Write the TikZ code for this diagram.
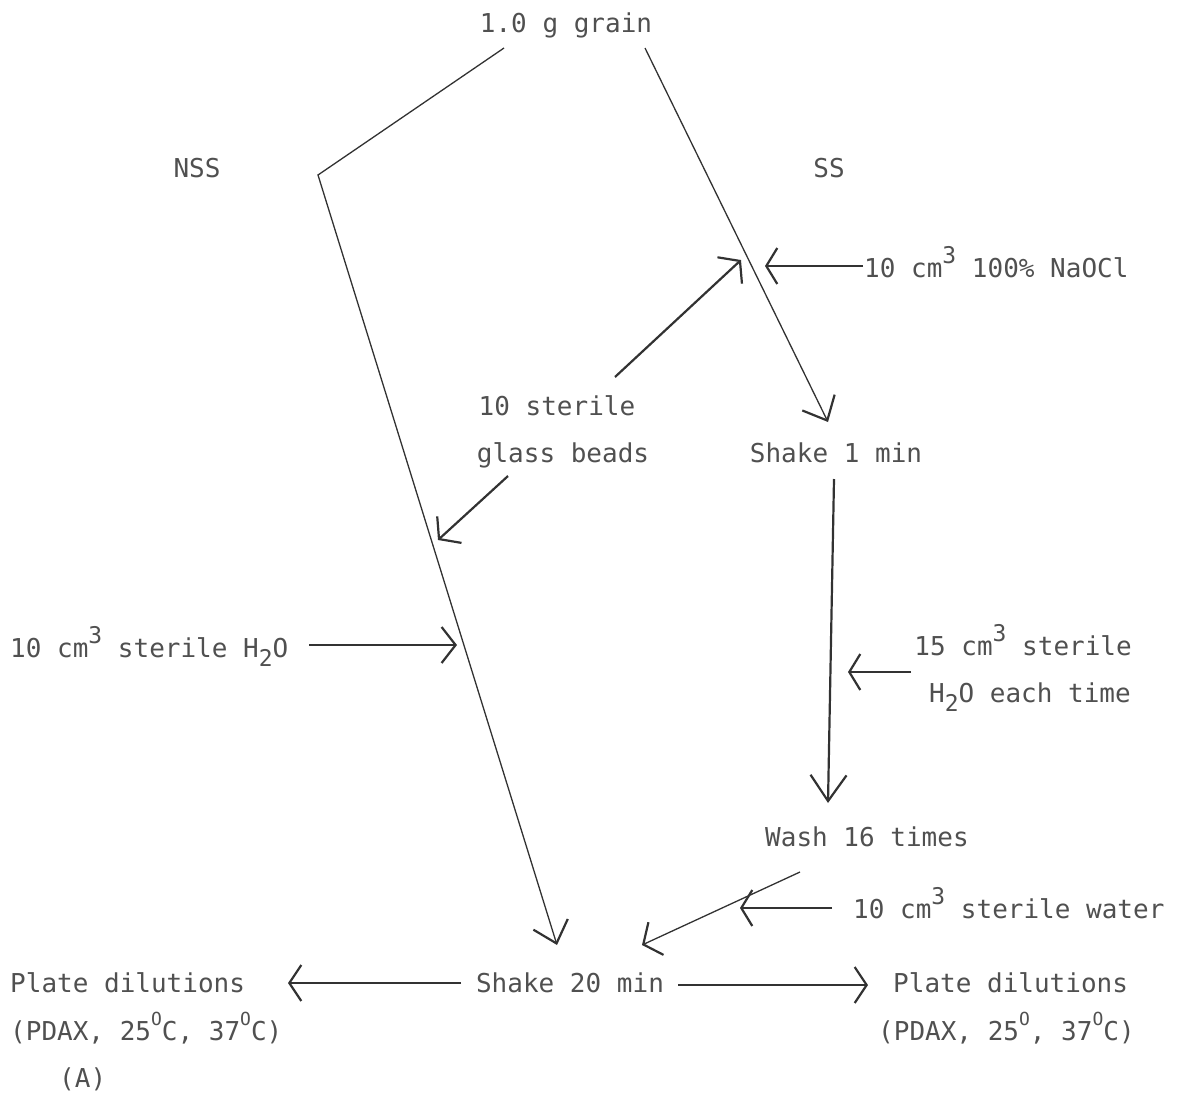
\documentclass[tikz,border=0pt]{standalone}
\usepackage{fontspec}
\setmainfont{DejaVu Sans Mono}
\usetikzlibrary{arrows.meta}
\definecolor{ink}{RGB}{50,50,50}
\definecolor{txt}{RGB}{80,80,80}
\newcommand\supx[1]{\raisebox{0.52em}{\fontsize{23}{23}\selectfont #1}}
\newcommand\subx[1]{\raisebox{-0.38em}{\fontsize{23}{23}\selectfont #1}}
\newcommand\degx{\raisebox{0.55em}{\fontsize{18}{18}\selectfont O}}
\begin{document}
\begin{tikzpicture}[x=1pt,y=-1pt,
  lbl/.style={font=\fontsize{26}{30}\selectfont, text=txt, inner sep=0pt},
  thinln/.style={draw=ink, line width=1.3pt},
  thickln/.style={draw=ink, line width=2.2pt},
  barb/.style={-{Straight Barb[length=#1, width=36pt, line width=2.2pt]}},
  barb/.default=13pt]
\useasboundingbox (0,0) rectangle (1187,1096);

% texts
\node[lbl, anchor=base] (grain) at (566,32) {1.0 g grain};
\node[lbl, anchor=base] (nss) at (197,177) {NSS};
\node[lbl, anchor=base] (ss) at (829,177) {SS};
\node[lbl, anchor=base west] (naocl) at (864,277) {10 cm\supx{3} 100\% NaOCl};
\node[lbl, anchor=base] (ster10) at (557,415) {10 sterile};
\node[lbl, anchor=base] (beads) at (563,462) {glass beads};
\node[lbl, anchor=base] (shake1) at (836,462) {Shake 1 min};
\node[lbl, anchor=base west] (h2oleft) at (10,657) {10 cm\supx{3} sterile H\subx{2}O};
\node[lbl, anchor=base east] (cm15) at (1132,655) {15 cm\supx{3} sterile};
\node[lbl, anchor=base east] (each) at (1131,702) {H\subx{2}O each time};
\node[lbl, anchor=base west] (wash) at (765,846) {Wash 16 times};
\node[lbl, anchor=base west] (water) at (853,918) {10 cm\supx{3} sterile water};
\node[lbl, anchor=base] (shake20) at (570,992) {Shake 20 min};
\node[lbl, anchor=base west] (plateL) at (10,992) {Plate dilutions};
\node[lbl, anchor=base west] (pdaxL) at (10,1040) {(PDAX, 25\degx C, 37\degx C)};
\node[lbl, anchor=base west] (lblA) at (59,1087) {(A)};
\node[lbl, anchor=base west] (plateR) at (893,992) {Plate dilutions};
\node[lbl, anchor=base west] (pdaxR) at (878,1040) {(PDAX, 25\degx, 37\degx C)};

% junction and end points
\coordinate (nssA) at (504,48);
\coordinate (nssB) at (318,175);
\coordinate (nssT) at (557,945);
\coordinate (ssA) at (645,48);
\coordinate (ssT) at (828,422);
\coordinate (naoS) at (863,266);
\coordinate (naoT) at (765,266);
\coordinate (bdS) at (615,377);
\coordinate (bdT) at (741,260);
\coordinate (bd2S) at (508,476);
\coordinate (bd2T) at (438,540);
\coordinate (hwS) at (309,645);
\coordinate (hwT) at (457,645);
\coordinate (vS) at (834,479);
\coordinate (vT) at (828,803);
\coordinate (c15S) at (911,672);
\coordinate (c15T) at (848,672);
\coordinate (wS) at (800,872);
\coordinate (wT) at (642,945);
\coordinate (wwS) at (832,908);
\coordinate (wwT) at (740,908);
\coordinate (lS) at (461,983);
\coordinate (lT) at (288,983);
\coordinate (rS) at (678,985);
\coordinate (rT) at (868,985);

% main flow lines
\draw[thinln, barb=20pt] (nssA) -- (nssB) -- (nssT);
\draw[thinln, barb=20pt] (ssA) -- (ssT);
\draw[thickln, barb=26pt] (vS) -- (vT);

% feeds
\draw[thickln, barb=11pt] (naoS) -- (naoT);
\draw[thickln, barb=14pt] (bdS) -- (bdT);
\draw[thickln, barb=14pt] (bd2S) -- (bd2T);
\draw[thickln, barb=14pt] (hwS) -- (hwT);
\draw[thickln, barb=11pt] (c15S) -- (c15T);
\draw[thinln, barb=14pt] (wS) -- (wT);
\draw[thickln, barb=11pt] (wwS) -- (wwT);
\draw[thickln, barb=12pt] (lS) -- (lT);
\draw[thickln, barb=12pt] (rS) -- (rT);
\end{tikzpicture}
\end{document}
